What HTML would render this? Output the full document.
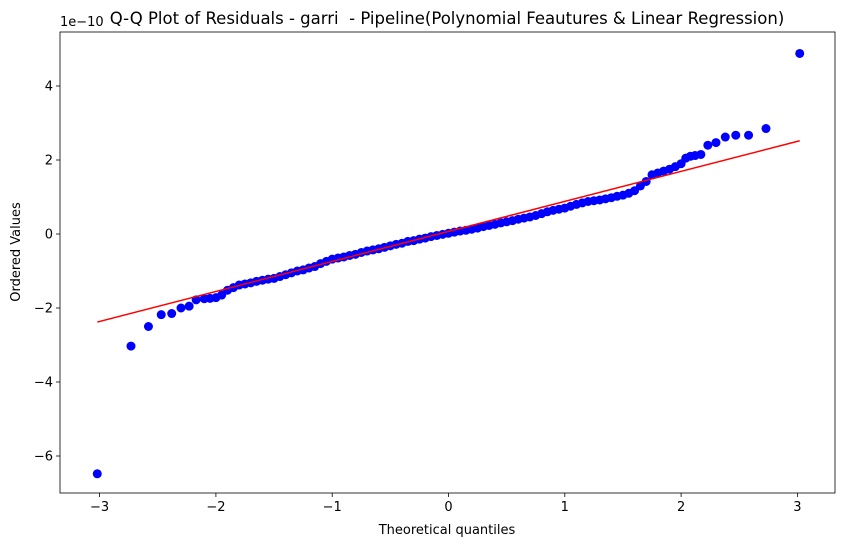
<!DOCTYPE html>
<html><head><meta charset="utf-8"><style>body{margin:0;background:#fff}svg{display:block;font-family:"DejaVu Sans","Liberation Sans",sans-serif}</style></head>
<body>
<svg id="chart" width="844" height="547" xmlns="http://www.w3.org/2000/svg"></svg>
<script>
const quantiles=[-3.02,-2.73,-2.58,-2.47,-2.38,-2.3,-2.23,-2.17,-2.1,-2.05,-2.0,-1.95,-1.9,-1.85,-1.8,-1.75,-1.7,-1.65,-1.6,-1.55,-1.5,-1.45,-1.4,-1.35,-1.3,-1.25,-1.2,-1.15,-1.1,-1.05,-1.0,-0.95,-0.9,-0.85,-0.8,-0.75,-0.7,-0.65,-0.6,-0.55,-0.5,-0.45,-0.4,-0.35,-0.3,-0.25,-0.2,-0.15,-0.1,-0.05,0,0.05,0.1,0.15,0.2,0.25,0.3,0.35,0.4,0.45,0.5,0.55,0.6,0.65,0.7,0.75,0.8,0.85,0.9,0.95,1.0,1.05,1.1,1.15,1.2,1.25,1.3,1.35,1.4,1.45,1.5,1.55,1.6,1.65,1.7,1.75,1.8,1.85,1.9,1.95,2.0,2.04,2.08,2.12,2.17,2.23,2.3,2.38,2.47,2.58,2.73,3.02];
const residuals=[-6.48,-3.03,-2.5,-2.18,-2.15,-2.0,-1.95,-1.78,-1.75,-1.74,-1.72,-1.65,-1.52,-1.45,-1.38,-1.35,-1.32,-1.28,-1.25,-1.22,-1.2,-1.15,-1.1,-1.05,-1.0,-0.97,-0.92,-0.88,-0.8,-0.74,-0.68,-0.65,-0.62,-0.58,-0.55,-0.5,-0.46,-0.43,-0.4,-0.36,-0.32,-0.28,-0.25,-0.2,-0.18,-0.14,-0.11,-0.07,-0.04,-0.01,0.02,0.05,0.08,0.1,0.13,0.16,0.2,0.23,0.26,0.3,0.33,0.36,0.4,0.43,0.46,0.5,0.55,0.6,0.64,0.67,0.7,0.75,0.8,0.84,0.88,0.9,0.92,0.95,0.98,1.02,1.05,1.1,1.17,1.3,1.42,1.6,1.65,1.7,1.75,1.82,1.9,2.05,2.1,2.12,2.15,2.4,2.47,2.62,2.67,2.67,2.85,4.88];
const fitX=[-3.02,3.02];
const fitY=[-2.38,2.52];
const xTicks=[-3,-2,-1,0,1,2,3];
const yTicks=[-6,-4,-2,0,2,4];
const NS="http://www.w3.org/2000/svg",svg=document.getElementById('chart');
const L=60,R=835,T=32,B=493;
const sx=v=>448.5+v*116.3, sy=v=>234-v*37;
function mk(t,a,p){const e=document.createElementNS(NS,t);for(const k in a)e.setAttribute(k,a[k]);(p||svg).appendChild(e);return e;}
const pts=mk('g',{});


quantiles.forEach((q,i)=>{const c=mk('circle',{cx:sx(q),cy:sy(residuals[i]),r:4.5,fill:'#0000ff'},pts);

});
const ln=mk('line',{x1:sx(fitX[0]),y1:sy(fitY[0]),x2:sx(fitX[1]),y2:sy(fitY[1]),stroke:'#ff0000','stroke-width':1.5});


const fr=mk('rect',{x:L,y:T,width:R-L,height:B-T,fill:'none',stroke:'#000','stroke-width':0.8});


xTicks.forEach(t=>{mk('line',{x1:sx(t),x2:sx(t),y1:B,y2:B+4,stroke:'#000','stroke-width':0.8});
const tx=mk('text',{x:sx(t),y:B+18,'text-anchor':'middle','font-size':13,fill:'#000'});tx.textContent=(t<0?'\u2212'+(-t):t);

});
yTicks.forEach(t=>{mk('line',{x1:L-4,x2:L,y1:sy(t),y2:sy(t),stroke:'#000','stroke-width':0.8});
const tx=mk('text',{x:L-7,y:sy(t)+4.5,'text-anchor':'end','font-size':13,fill:'#000'});tx.textContent=(t<0?'\u2212'+(-t):t);

});
function txt(s,a,name){const e=mk('text',a);e.textContent=s;

return e;}
txt('1e\u221210',{x:L,y:26,'font-size':13},'y-offset-label');
txt('Q-Q Plot of Residuals - garri  - Pipeline(Polynomial Feautures & Linear Regression)',{x:447,y:24,'text-anchor':'middle','font-size':16.5,style:'white-space:pre'},'chart-title');
txt('Theoretical quantiles',{x:447,y:534,'text-anchor':'middle','font-size':13},'x-axis-title');
txt('Ordered Values',{x:20,y:252,'text-anchor':'middle','font-size':13,transform:'rotate(-90 20 252)'},'y-axis-title');
</script>
</body></html>
